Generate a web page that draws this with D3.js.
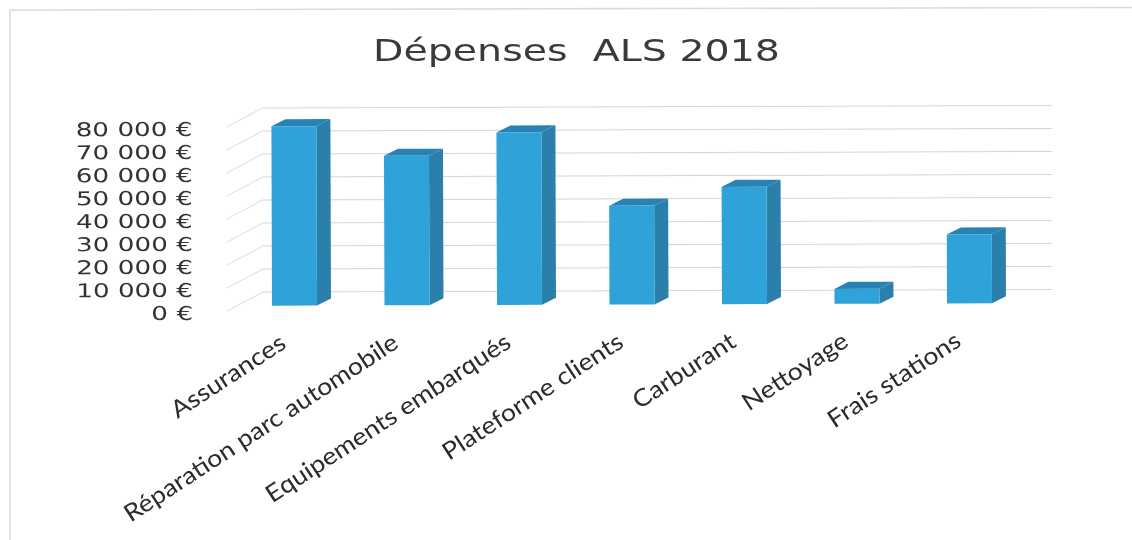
<!DOCTYPE html>
<html>
<head>
<meta charset="utf-8">
<script src="https://cdn.jsdelivr.net/npm/d3@7"></script>
<style>
  html, body { margin: 0; padding: 0; background: #fff; overflow: hidden; }
  svg { display: block; filter: blur(0.45px); }
</style>
</head>
<body>
<svg width="1132" height="540"></svg>
<script>
var title = "Dépenses  ALS 2018";
var categories = ["Assurances", "Réparation parc automobile", "Equipements embarqués",
    "Plateforme clients", "Carburant", "Nettoyage", "Frais stations"];
var depenses = [78000, 65000, 75000, 43000, 51000, 6500, 30000];
var yTicks = [0, 10000, 20000, 30000, 40000, 50000, 60000, 70000, 80000];

var svg = d3.select("svg");

// scan frame, only top and left edges show up
svg.append("path")
    .attr("d", "M10,540V10L1132,7.5")
    .attr("fill", "none")
    .attr("stroke", "#dcdcdc")
    .attr("stroke-width", 1.6);

// the scanned page is slightly tilted
var plot = svg.append("g").attr("transform", "rotate(-0.19 272 305.7)");

var x = d3.scaleBand().domain(categories).range([272, 992]).paddingInner(0.6).paddingOuter(0);
var y = d3.scaleLinear().domain([0, 80000]).range([305.7, 121.7]);
var yWall = d3.scaleLinear().domain([0, 80000]).range([311, 127]);

var wallDx = 36, wallDy = -19, gridEnd = 1052;
var depthX = 14, depthY = -7;

// gridlines on the back wall + stubs on the side wall
var grid = plot.append("g");
grid.selectAll("line.back").data(yTicks).enter().append("line")
    .attr("class", "back")
    .attr("x1", 227 + wallDx)
    .attr("x2", gridEnd)
    .attr("y1", function(d) { return yWall(d) + wallDy; })
    .attr("y2", function(d) { return yWall(d) + wallDy; })
    .attr("stroke", "#d4d4d4")
    .attr("stroke-width", 1);
grid.selectAll("line.stub").data(yTicks).enter().append("line")
    .attr("class", "stub")
    .attr("x1", 227)
    .attr("x2", 227 + wallDx)
    .attr("y1", function(d) { return yWall(d); })
    .attr("y2", function(d) { return yWall(d) + wallDy; })
    .attr("stroke", "#dedede")
    .attr("stroke-width", 1);

// value axis
var fmt = function(d) { return d3.format(",")(d).replace(/,/g, " ") + " €"; };
var yAxis = plot.append("g")
    .attr("transform", "translate(227,2)")
    .call(d3.axisLeft(yWall).tickValues(yTicks).tickFormat(fmt).tickSize(0).tickPadding(34));
yAxis.select(".domain").remove();
yAxis.selectAll("text")
    .attr("font-family", "DejaVu Sans")
    .attr("font-size", 19)
    .attr("fill", "#333")
    .each(function() {
        var len = this.getComputedTextLength();
        d3.select(this).attr("textLength", len * 1.38).attr("lengthAdjust", "spacingAndGlyphs");
    });

// bars
var bars = plot.selectAll("g.bar").data(depenses).enter().append("g").attr("class", "bar");
bars.append("path")
    .attr("fill", "#2a80ab")
    .attr("d", function(d, i) {
        var x1 = x(categories[i]) + x.bandwidth();
        return "M" + x1 + "," + y(0) + "l" + depthX + "," + depthY +
            "V" + (y(d) + depthY) + "l" + (-depthX) + "," + (-depthY) + "Z";
    });
bars.append("path")
    .attr("fill", "#2882b4")
    .attr("d", function(d, i) {
        var x0 = x(categories[i]);
        return "M" + x0 + "," + y(d) + "l" + depthX + "," + depthY +
            "h" + x.bandwidth() + "l" + (-depthX) + "," + (-depthY) + "Z";
    });
bars.append("rect")
    .attr("fill", "#30a2da")
    .attr("x", function(d, i) { return x(categories[i]); })
    .attr("y", function(d) { return y(d); })
    .attr("width", x.bandwidth())
    .attr("height", function(d) { return y(0) - y(d); });

// category labels, stretched like the scan
plot.selectAll("text.cat").data(categories).enter().append("text")
    .attr("class", "cat")
    .attr("text-anchor", "end")
    .attr("font-family", "Lato")
    .attr("font-size", 24)
    .attr("fill", "#2b2b2b")
    .attr("transform", function(d) {
        return "translate(" + (x(d) + x.bandwidth() / 2 - 7) + ",347) rotate(-33)";
    })
    .text(function(d) { return d; })
    .each(function() {
        var len = this.getComputedTextLength();
        d3.select(this).attr("textLength", len * 1.11).attr("lengthAdjust", "spacingAndGlyphs");
    });

// title
svg.append("text")
    .attr("x", 373)
    .attr("y", 61)
    .attr("font-family", "DejaVu Sans")
    .attr("font-size", 30)
    .attr("fill", "#3a3a3a")
    .style("white-space", "pre")
    .attr("textLength", 407)
    .attr("lengthAdjust", "spacingAndGlyphs")
    .text(title);
</script>
</body>
</html>
